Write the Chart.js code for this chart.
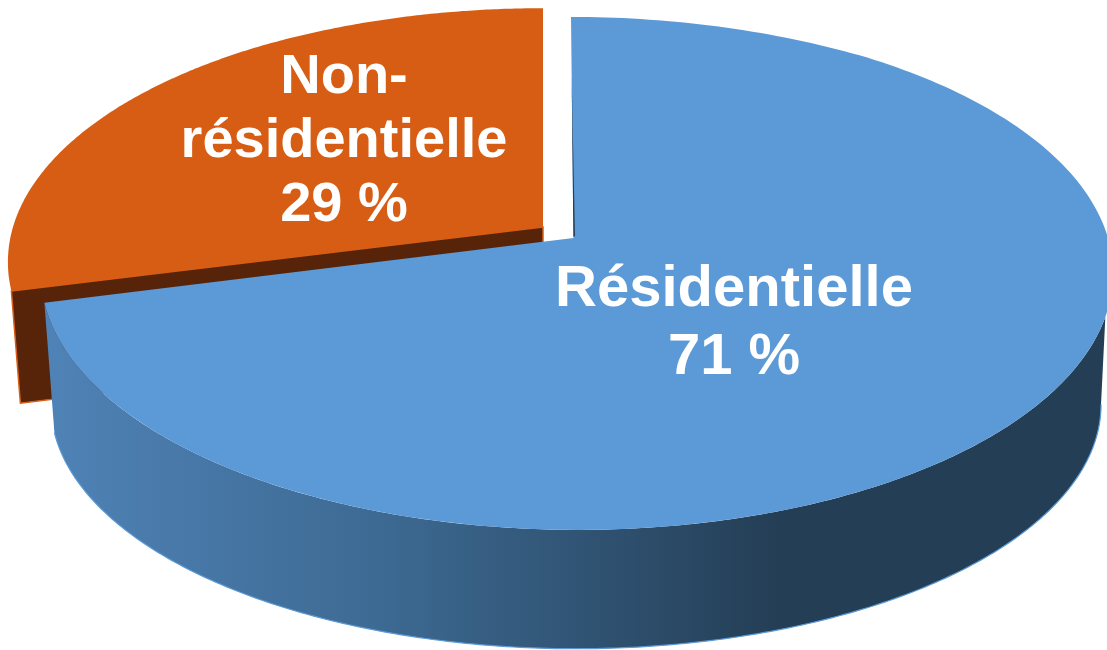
<!DOCTYPE html>
<html><head><meta charset="utf-8">
<style>html,body{margin:0;padding:0;background:#fff;overflow:hidden}canvas{display:block}</style>
<script src="https://cdn.jsdelivr.net/npm/chart.js@4"></script>
</head><body><canvas id="c" width="1107" height="650"></canvas>
<script>
const categories = ['Résidentielle', 'Non-résidentielle'];
const shares = [71, 29];
const sliceColors = ['#5B9AD6', '#D75D14'];
const labelLines = [['Résidentielle', '71 %'], ['Non-', 'résidentielle', '29 %']];

// Perspective projection of the pie's plane
const K = 0.138;
const DEG = Math.PI / 180;
const blueTop = {cx: 578, topX: 571, cy: 238, RL: 532, RR: 530, S: 251.6, apexX: 573.5};
const blueBase = {cx: 576, topX: 576, cy: 371, RL: 520, RR: 520, S: 239.4, apexX: 576};
const orangeTop = {cx: 540, topX: 543, cy: 227, RL: 527, RR: 527, S: 249, apexX: 543};
const labelPos = [
  {x: 734, size: 58, ys: [306, 374]},
  {x: 344, size: 56, ys: [93, 157, 221]}
];

function pt(a, rim) {
  const u = Math.cos(a), v = Math.sin(a), w = 1 - K * v;
  const blend = Math.max(0, 1 - (1 + v) / 0.2);
  const R = u < 0 ? rim.RL : rim.RR;
  return [rim.cx + R * u / w + (rim.topX - rim.cx) * blend, rim.cy + rim.S * v / w];
}
function arcPath(ctx, a0, a1, rim, first) {
  const n = 240;
  for (let i = 0; i <= n; i++) {
    const p = pt(a0 + (a1 - a0) * i / n, rim);
    if (i === 0 && first) ctx.moveTo(p[0], p[1]); else ctx.lineTo(p[0], p[1]);
  }
}
function drawTop(ctx, el, rim, color) {
  ctx.beginPath();
  ctx.moveTo(rim.apexX, rim.cy);
  arcPath(ctx, el.startAngle, el.endAngle, rim, false);
  ctx.closePath();
  ctx.fillStyle = color;
  ctx.fill();
}
const pie3d = {
  id: 'pie3d',
  beforeDatasetsDraw(chart) {
    const ctx = chart.ctx;
    const arcs = chart.getDatasetMeta(0).data;
    ctx.save();
    // exploded slice: cut face
    const o = arcs[1];
    const oa = pt(o.startAngle, orangeTop);
    ctx.beginPath();
    ctx.moveTo(orangeTop.apexX, orangeTop.cy);
    ctx.lineTo(oa[0], oa[1]);
    ctx.lineTo(oa[0] + 9, oa[1] + 112);
    ctx.lineTo(orangeTop.apexX, orangeTop.cy + 112);
    ctx.closePath();
    ctx.fillStyle = '#57240A';
    ctx.strokeStyle = sliceColors[1];
    ctx.lineWidth = 1.5;
    ctx.fill();
    ctx.stroke();
    drawTop(ctx, o, orangeTop, sliceColors[1]);
    // main slice: outer wall, between the two rims
    const b = arcs[0];
    const g = ctx.createLinearGradient(50, 0, 780, 0);
    g.addColorStop(0, '#4F82B6');
    g.addColorStop(0.45, '#3D6A93');
    g.addColorStop(1, '#243E55');
    ctx.beginPath();
    arcPath(ctx, 7.9 * DEG, b.endAngle, blueBase, true);
    arcPath(ctx, b.endAngle, 17.5 * DEG, blueTop, false);
    ctx.closePath();
    ctx.fillStyle = g;
    ctx.fill();
    ctx.beginPath();
    arcPath(ctx, 7.9 * DEG, b.endAngle, blueBase, true);
    ctx.strokeStyle = sliceColors[0];
    ctx.lineWidth = 1.2;
    ctx.stroke();
    drawTop(ctx, b, blueTop, sliceColors[0]);
    // thin dark edge along the cut at the top of the wedge
    ctx.beginPath();
    ctx.moveTo(571.6, 75); ctx.lineTo(575, 236); ctx.lineTo(573.4, 237);
    ctx.closePath();
    ctx.fillStyle = '#243E55';
    ctx.fill();
    // labels
    ctx.fillStyle = '#fff';
    ctx.textAlign = 'center';
    ctx.textBaseline = 'alphabetic';
    labelLines.forEach((lines, i) => {
      ctx.font = 'bold ' + labelPos[i].size + 'px "Liberation Sans", Arial, sans-serif';
      lines.forEach((t, j) => ctx.fillText(t, labelPos[i].x, labelPos[i].ys[j]));
    });
    ctx.restore();
    return false;
  }
};
new Chart(document.getElementById('c'), {
  type: 'pie',
  data: {labels: categories, datasets: [{data: shares, backgroundColor: sliceColors, borderWidth: 0}]},
  options: {
    responsive: false,
    animation: false,
    layout: {padding: 0},
    plugins: {legend: {display: false}, tooltip: {enabled: false}}
  },
  plugins: [pie3d]
});
</script></body></html>
